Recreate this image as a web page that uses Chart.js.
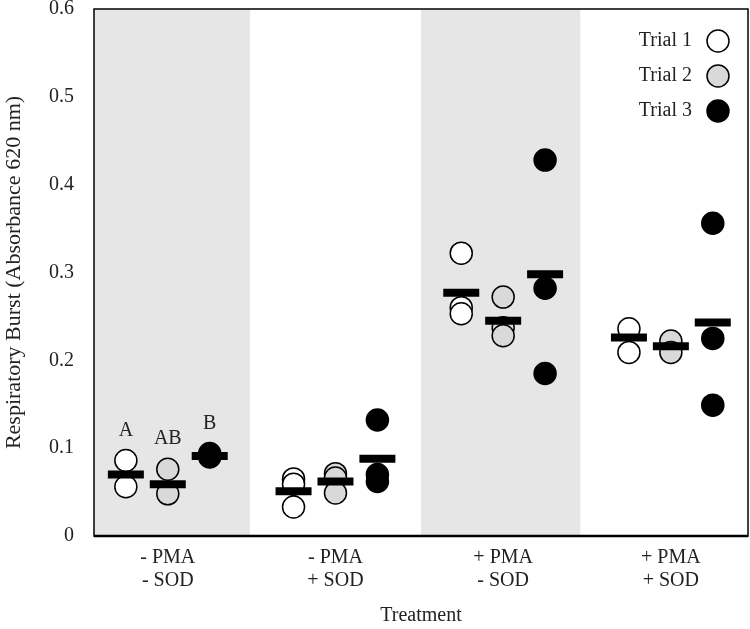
<!DOCTYPE html>
<html lang="en">
<head>
    <meta charset="UTF-8">
    <title>Respiratory Burst</title>
    <script src="https://cdn.jsdelivr.net/npm/chart.js"></script>
    <style>
        body {
            margin: 0;
            background: #fff;
        }
        #chart {
            display: block;
        }
    </style>
</head>
<body>
    <canvas id="chart" width="750" height="629"></canvas>

    <script>
        // data
        const treatments = [['- PMA', '- SOD'], ['- PMA', '+ SOD'], ['+ PMA', '- SOD'], ['+ PMA', '+ SOD']];
        const trialNames = ['Trial 1', 'Trial 2', 'Trial 3'];

        const trial1 = [[0.086, 0.056], [0.065, 0.059, 0.033], [0.322, 0.260, 0.253], [0.236, 0.209]];
        const trial2 = [[0.076, 0.048], [0.071, 0.066, 0.049], [0.272, 0.237, 0.228], [0.222, 0.209]];
        const trial3 = [[0.090, 0.094, 0.092], [0.132, 0.070, 0.062], [0.428, 0.282, 0.185], [0.356, 0.225, 0.149]];

        const mean1 = [0.070, 0.051, 0.277, 0.226];
        const mean2 = [0.059, 0.062, 0.245, 0.216];
        const mean3 = [0.091, 0.088, 0.298, 0.243];

        const sigLetters = ['A', 'AB', 'B'];   // only on the first treatment
        const yTicks = [0, 0.1, 0.2, 0.3, 0.4, 0.5, 0.6];

        const FONT = "'Liberation Serif', 'Times New Roman', serif";
        const TEXT = '#222';
        const trialFill = ['#ffffff', '#d9d9d9', '#000000'];
        const offsets = [-0.25, 0, 0.25];

        const toPoints = (vals, t) => vals.flatMap((g, gi) => g.map(v => ({ x: gi + offsets[t], y: v })));
        const toMeans = (vals, t) => vals.map((v, gi) => ({ x: gi + offsets[t], y: v }));

        const trials = [trial1, trial2, trial3];
        const means = [mean1, mean2, mean3];

        const datasets = [];
        means.forEach((m, t) => {
            datasets.push({
                label: 'mean ' + (t + 1),
                data: toMeans(m, t),
                pointStyle: 'line',
                pointRadius: 18,
                pointHoverRadius: 18,
                borderWidth: 8,
                borderColor: '#000',
                order: 0
            });
        });
        trials.forEach((tr, t) => {
            datasets.push({
                label: trialNames[t],
                data: toPoints(tr, t),
                pointRadius: 11,
                pointHoverRadius: 11,
                borderWidth: 1.5,
                borderColor: '#000',
                backgroundColor: trialFill[t],
                order: 1
            });
        });

        // grey bands behind the 1st and 3rd treatment
        const bandPlugin = {
            id: 'bands',
            beforeDatasetsDraw(chart) {
                const { ctx, chartArea, scales: { x } } = chart;
                const spans = [[-0.44, 0.49], [1.51, 2.46]];
                ctx.save();
                ctx.fillStyle = '#e6e6e6';
                spans.forEach(([a, b]) => {
                    const l = Math.max(x.getPixelForValue(a), chartArea.left);
                    const r = x.getPixelForValue(b);
                    ctx.fillRect(l, chartArea.top, r - l, chartArea.bottom - chartArea.top);
                });
                ctx.restore();
            }
        };

        // frame, legend and letters
        const extrasPlugin = {
            id: 'extras',
            afterDraw(chart) {
                const { ctx, chartArea, scales: { x, y } } = chart;
                ctx.save();
                ctx.strokeStyle = '#000';
                ctx.lineWidth = 1.5;
                ctx.strokeRect(chartArea.left, chartArea.top, chartArea.right - chartArea.left, chartArea.bottom - chartArea.top);
                ctx.lineWidth = 2.5;
                ctx.beginPath();
                ctx.moveTo(chartArea.left, chartArea.bottom);
                ctx.lineTo(chartArea.right, chartArea.bottom);
                ctx.stroke();

                // significance letters above the first group
                ctx.font = '20px ' + FONT;
                ctx.fillStyle = TEXT;
                ctx.textAlign = 'center';
                ctx.textBaseline = 'middle';
                trials.forEach((tr, t) => {
                    const top = Math.max(...tr[0]);
                    ctx.fillText(sigLetters[t], x.getPixelForValue(offsets[t]), y.getPixelForValue(top) - 30);
                });

                // legend, marker on the right of the text
                const lx = chartArea.right - 30;
                trialNames.forEach((name, t) => {
                    const ly = chartArea.top + 32 + t * 35;
                    ctx.textAlign = 'right';
                    ctx.fillStyle = TEXT;
                    ctx.fillText(name, lx - 26, ly);
                    ctx.beginPath();
                    ctx.arc(lx, ly, 11, 0, Math.PI * 2);
                    ctx.fillStyle = trialFill[t];
                    ctx.fill();
                    ctx.lineWidth = 1.5;
                    ctx.stroke();
                });
                ctx.restore();
            }
        };

        new Chart(document.getElementById('chart'), {
            type: 'scatter',
            data: { datasets },
            options: {
                responsive: false,
                animation: false,
                layout: { autoPadding: false, padding: { top: 9, right: 2, left: 0, bottom: 0 } },
                plugins: {
                    legend: { display: false },
                    tooltip: { enabled: false }
                },
                scales: {
                    x: {
                        type: 'linear',
                        min: -0.44,
                        max: 3.46,
                        afterBuildTicks: (axis) => { axis.ticks = treatments.map((_, i) => ({ value: i })); },
                        afterFit: (axis) => {
                            axis.height = 93;
                            axis.paddingLeft = 0;
                            axis.paddingRight = 0;
                        },
                        grid: { display: false, drawTicks: false },
                        border: { display: false },
                        ticks: {
                            padding: 10,
                            maxRotation: 0,
                            color: TEXT,
                            font: { family: FONT, size: 20, lineHeight: 1.15 },
                            callback: (v) => treatments[v]
                        },
                        title: {
                            display: true,
                            text: 'Treatment',
                            color: TEXT,
                            font: { family: FONT, size: 20 },
                            padding: { top: 0, bottom: 1 }
                        }
                    },
                    y: {
                        min: 0,
                        max: 0.6,
                        afterBuildTicks: (axis) => { axis.ticks = yTicks.map(v => ({ value: v })); },
                        afterFit: (axis) => {
                            axis.width = 94;
                            axis.paddingTop = 0;
                            axis.paddingBottom = 0;
                        },
                        grid: { display: false, drawTicks: false },
                        border: { display: false },
                        ticks: {
                            padding: 20,
                            color: TEXT,
                            font: { family: FONT, size: 20 },
                            callback: (v) => String(v)
                        },
                        title: {
                            display: true,
                            text: 'Respiratory Burst (Absorbance 620 nm)',
                            color: TEXT,
                            font: { family: FONT, size: 22 },
                            padding: { top: 1, bottom: 0 }
                        }
                    }
                }
            },
            plugins: [bandPlugin, extrasPlugin]
        });
    </script>
</body>
</html>
